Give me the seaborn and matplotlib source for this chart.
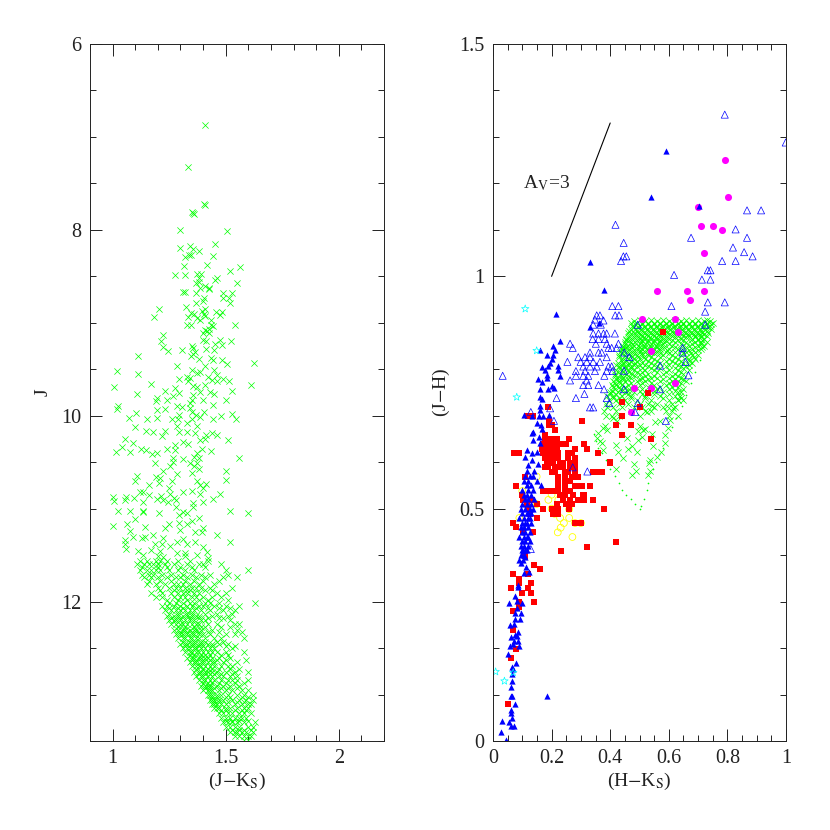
import numpy as np
import pandas as pd
import matplotlib
matplotlib.use('Agg')
import matplotlib.pyplot as plt
import seaborn as sns

# colour-magnitude diagram: sparse stars read one by one, (J-Ks, J)
cmd_sparse = [
(1.41,6.87),(1.335,7.32),(1.406,7.72),(1.41,7.73),(1.357,7.82),(1.35,7.81),(1.36,7.83),(1.298,8.0),(1.505,8.01),
(1.298,8.2),(1.342,8.175),(1.357,8.21),(1.384,8.226),(1.453,8.154),(1.446,8.283),(1.322,8.294),(1.337,8.272),(1.345,8.272),
(1.416,8.373),(1.316,8.387),(1.564,8.401),(1.517,8.444),(1.276,8.487),(1.322,8.487),(1.372,8.473),(1.39,8.473),(1.381,8.52),
(1.453,8.537),(1.46,8.52),(1.369,8.573),(1.384,8.566),(1.549,8.573),(1.387,8.627),(1.407,8.609),(1.428,8.627),(1.424,8.638),
(1.313,8.666),(1.322,8.666),(1.369,8.681),(1.49,8.681),(1.527,8.681),(1.404,8.735),(1.487,8.731),(1.515,8.735),(1.401,8.763),
(1.517,8.788),(1.37,8.788),(1.207,8.853),(1.323,8.835),(1.41,8.853),(1.394,8.871),(1.456,8.882),(1.483,8.882),(1.345,8.896),
(1.36,8.907),(1.404,8.907),(1.409,8.932),(1.475,8.917),(1.182,8.935),(1.332,8.935),(1.375,8.946),(1.387,8.975),(1.434,8.971),
(1.543,9.021),(1.331,9.029),(1.345,9.029),(1.434,9.021),(1.446,9.039),(1.424,9.068),(1.409,9.075),(1.416,9.093),(1.401,9.111),
(1.428,9.111),(1.224,9.132),(1.214,9.193),(1.401,9.183),(1.412,9.197),(1.475,9.19),(1.524,9.197),(1.453,9.226),(1.483,9.236),
(1.35,9.247),(1.224,9.261),(1.357,9.272),(1.412,9.279),(1.45,9.29),(1.306,9.294),(1.244,9.308),(1.364,9.315),(1.357,9.34),
(1.345,9.36),(1.112,9.36),(1.382,9.39),(1.434,9.38),(1.446,9.405),(1.483,9.40),(1.505,9.445),(1.627,9.435),(1.283,9.47),
(1.407,9.47),(1.449,9.505),(1.018,9.52),(1.35,9.51),(1.387,9.525),(1.372,9.54),(1.112,9.55),(1.33,9.58),(1.46,9.565),(1.42,9.585),
(1.342,9.595),(1.292,9.61),(1.44,9.62),(1.335,9.63),(1.49,9.61),(1.515,9.63),(1.46,9.63),(1.17,9.655),(1.407,9.665),(1.357,9.685),
(1.614,9.67),(1.008,9.695),(1.278,9.70),(1.372,9.69),(1.233,9.73),(1.527,9.735),(1.43,9.745),(1.387,9.745),(1.292,9.755),
(1.449,9.77),(1.106,9.77),(1.357,9.78),(1.269,9.785),(1.198,9.81),(1.242,9.83),(1.35,9.83),(1.50,9.83),(1.40,9.835),(1.192,9.845),
(1.342,9.865),(1.443,9.885),(1.283,9.89),(1.025,9.89),(1.307,9.905),(1.018,9.93),(1.195,9.94),(1.232,9.925),(1.34,9.915),
(1.35,9.955),(1.404,9.965),(1.104,9.975),(1.294,9.99),(1.369,9.99),(1.478,10.0),(1.53,9.98),(1.073,10.02),(1.198,10.02),
(1.261,10.03),(1.35,10.03),(1.387,10.01),(1.29,10.03),(1.446,10.03),(1.154,10.03),(1.545,10.03),
(1.10,10.12),(1.148,10.16),(1.18,10.17),(1.232,10.16),(1.217,10.215),(1.283,10.115),(1.295,10.17),(1.328,10.08),(1.372,10.115),
(1.365,10.185),(1.413,10.205),(1.46,10.205),(1.438,10.185),(1.33,10.17),(1.056,10.245),(1.508,10.265),(1.387,10.26),(1.41,10.25),
(1.092,10.295),(1.276,10.31),(1.313,10.285),(1.335,10.30),(1.043,10.34),(1.125,10.355),(1.146,10.365),(1.017,10.385),(1.078,10.395),
(1.242,10.36),(1.276,10.365),(1.394,10.36),(1.435,10.375),(1.174,10.415),(1.195,10.40),(1.372,10.40),(1.36,10.44),(1.38,10.455),
(1.56,10.46),(1.269,10.455),(1.313,10.47),(1.342,10.51),(1.187,10.51),(1.269,10.50),(1.375,10.51),(1.254,10.545),(1.36,10.54),
(1.38,10.575),(1.224,10.6),(1.35,10.615),(1.502,10.59),(1.285,10.63),(1.11,10.65),(1.19,10.66),(1.21,10.67),(1.10,10.70),
(1.263,10.70),(1.50,10.69),(1.375,10.70),(1.207,10.725),(1.413,10.735),(1.16,10.75),(1.387,10.75),(1.25,10.78),(1.40,10.78),
(1.12,10.82),(1.136,10.825),(1.313,10.82),(1.35,10.815),(1.387,10.84),(1.477,10.84),(1.163,10.85),(1.254,10.84),(1.214,10.86),
(1.003,10.875),(1.058,10.875),(1.096,10.88),(1.198,10.90),(1.273,10.885),(1.446,10.90),(1.006,10.915),(1.053,10.905),(1.136,10.93),
(1.224,10.905),(1.244,10.93),(1.28,10.905),(1.357,10.94),(1.399,10.93),(1.357,10.98),(1.28,10.985),(1.025,11.03),(1.077,11.02),
(1.133,11.02),(1.135,11.035),(1.205,11.05),(1.313,11.035),(1.33,11.045),(1.519,11.025),(1.60,11.05),(1.295,11.065),(1.10,11.11),
(1.38,11.105),(1.35,11.135),(1.25,11.16),(1.062,11.165),(1.294,11.155),(1.328,11.17),(1.003,11.185),(1.143,11.2),(1.232,11.21),
(1.399,11.21),(1.077,11.235),(1.298,11.225),(1.365,11.255),(1.395,11.25),(1.18,11.28),(1.462,11.28),(1.092,11.3),(1.143,11.3),
(1.128,11.315),(1.224,11.315),(1.055,11.34),(1.313,11.325),(1.283,11.36),(1.521,11.36),(1.365,11.36),(1.055,11.38),(1.187,11.38),
(1.22,11.385),(1.328,11.385),(1.254,11.40),(1.399,11.41),(1.06,11.435),(1.114,11.46),(1.168,11.44),(1.21,11.46),(1.283,11.475),
(1.32,11.475),(1.375,11.50),(1.416,11.47),(1.133,11.495),(1.202,11.505),(1.224,11.52),(1.32,11.51),(1.42,11.53),
]

# crowded lower part of the same diagram, (J, [J-Ks ...])
cmd_dense = [
(11.56,[1.12,1.15,1.19,1.21,1.24,1.29,1.34,1.42]),
(11.6,[1.11,1.14,1.16,1.18,1.2,1.23,1.27,1.33,1.38,1.4,1.48]),
(11.63,[1.13,1.2,1.24,1.3,1.35,1.41]),
(11.66,[1.12,1.15,1.17,1.19,1.21,1.25,1.29,1.32,1.36,1.5,1.6]),
(11.71,[1.13,1.16,1.18,1.22,1.26,1.31,1.35,1.39,1.43,1.51]),
(11.74,[1.14,1.17,1.2,1.24,1.28,1.3,1.33,1.37,1.41,1.49,1.55]),
(11.78,[1.16,1.21,1.26,1.32,1.36,1.4,1.47]),
(11.81,[1.15,1.19,1.23,1.27,1.29,1.31,1.34,1.38,1.45]),
(11.85,[1.2,1.25,1.28,1.3,1.32,1.35,1.37,1.39,1.43,1.53]),
(11.88,[1.21,1.27,1.33,1.34,1.41,1.44]),
(11.91,[1.17,1.22,1.26,1.29,1.31,1.33,1.36,1.38,1.46,1.5]),
(11.95,[1.19,1.22,1.27,1.3,1.32,1.35,1.37,1.4,1.44,1.48]),
(11.98,[1.24,1.29,1.33,1.38,1.42,1.51]),
(12.01,[1.25,1.28,1.31,1.34,1.36,1.41,1.43,1.47,1.63]),
(12.05,[1.22,1.24,1.27,1.3,1.33,1.35,1.38,1.4,1.45,1.5,1.56]),
(12.07,[1.25,1.29,1.31,1.37,1.42,1.47,1.52]),
(12.09,[1.23,1.26,1.28,1.3,1.32,1.34,1.36,1.39,1.43,1.49,1.54]),
(12.13,[1.25,1.29,1.33,1.35,1.41,1.46,1.53]),
(12.16,[1.24,1.27,1.29,1.31,1.33,1.35,1.37,1.38,1.44,1.51]),
(12.18,[1.26,1.3,1.34,1.38,1.42,1.47,1.49]),
(12.2,[1.25,1.27,1.28,1.3,1.32,1.34,1.36,1.39,1.41,1.52]),
(12.24,[1.26,1.28,1.3,1.31,1.33,1.35,1.37,1.38,1.42,1.46,1.54,1.56]),
(12.27,[1.29,1.32,1.36,1.39,1.41,1.48,1.52]),
(12.31,[1.27,1.29,1.31,1.32,1.34,1.36,1.37,1.39,1.44,1.55]),
(12.33,[1.3,1.33,1.35,1.38,1.42,1.47,1.57]),
(12.35,[1.28,1.3,1.31,1.33,1.35,1.36,1.38,1.4,1.43,1.5,1.54]),
(12.39,[1.29,1.31,1.32,1.34,1.35,1.37,1.38,1.41,1.45,1.48,1.58]),
(12.43,[1.31,1.34,1.36,1.39,1.41,1.46,1.49]),
(12.46,[1.3,1.32,1.33,1.35,1.36,1.38,1.39,1.42,1.44,1.47,1.51]),
(12.48,[1.32,1.35,1.38,1.4,1.44,1.5,1.54]),
(12.5,[1.31,1.33,1.34,1.36,1.37,1.39,1.41,1.43,1.45,1.53]),
(12.54,[1.32,1.34,1.35,1.37,1.38,1.4,1.42,1.44,1.46,1.5,1.58]),
(12.57,[1.34,1.36,1.39,1.41,1.43,1.48,1.51]),
(12.61,[1.33,1.35,1.36,1.38,1.39,1.41,1.42,1.44,1.47,1.52]),
(12.63,[1.35,1.37,1.4,1.43,1.46,1.5,1.59]),
(12.65,[1.34,1.36,1.37,1.39,1.4,1.42,1.44,1.45,1.49,1.55]),
(12.69,[1.35,1.37,1.38,1.39,1.41,1.43,1.45,1.48,1.51,1.53]),
(12.73,[1.37,1.4,1.42,1.44,1.47,1.52,1.56]),
(12.76,[1.36,1.38,1.39,1.41,1.42,1.44,1.46,1.5,1.54,1.6]),
(12.78,[1.38,1.41,1.43,1.45,1.48,1.53]),
(12.8,[1.37,1.39,1.4,1.42,1.44,1.47,1.49,1.52,1.55]),
(12.84,[1.38,1.4,1.41,1.43,1.45,1.48,1.51,1.53,1.55,1.6]),
(12.88,[1.4,1.42,1.44,1.47,1.5,1.54,1.58]),
(12.91,[1.39,1.41,1.42,1.43,1.46,1.49,1.52,1.56]),
(12.93,[1.41,1.43,1.45,1.48,1.51,1.55]),
(12.95,[1.4,1.42,1.43,1.44,1.47,1.5,1.53,1.57,1.6]),
(13.0,[1.42,1.43,1.44,1.46,1.48,1.51,1.55,1.58,1.62]),
(13.03,[1.44,1.46,1.5,1.52,1.57,1.6]),
(13.06,[1.43,1.44,1.45,1.47,1.49,1.53,1.56,1.59,1.62]),
(13.08,[1.45,1.47,1.51,1.55,1.58]),
(13.1,[1.44,1.45,1.46,1.48,1.5,1.54,1.57,1.6,1.61]),
(13.14,[1.45,1.46,1.47,1.5,1.52,1.55,1.58,1.6]),
(13.17,[1.48,1.5,1.54,1.57,1.59]),
(13.2,[1.47,1.49,1.51,1.53,1.56,1.58,1.61]),
(13.25,[1.48,1.5,1.52,1.54,1.56,1.57,1.59]),
(13.28,[1.5,1.53,1.56,1.6]),
(13.3,[1.49,1.51,1.53,1.55,1.58,1.63]),
(13.35,[1.5,1.52,1.54,1.56,1.6,1.62]),
(13.38,[1.53,1.56,1.58,1.61]),
(13.4,[1.52,1.54,1.55,1.57,1.59,1.62]),
(13.45,[1.54,1.56,1.58,1.6,1.61]),
(13.49,[1.58,1.6]),
]

# colour-colour diagram: green crosses, crowded part as (J-H, [H-Ks ...])
cc_green_dense = [
(.905,[.50,.54,.58,.62,.66,.70,.73]),
(.903,[.48,.52,.56,.6,.64,.68,.72,.74]),
(.90,[.47,.49,.51,.53,.55,.57,.59,.61,.63,.65,.67,.69,.71,.73,.75]),
(.897,[.485,.51,.53,.55,.57,.59,.61,.63,.65,.67,.69,.71,.73,.745]),
(.893,[.475,.5,.52,.54,.56,.58,.6,.62,.64,.66,.68,.7,.72,.74]),
(.89,[.48,.495,.515,.535,.555,.575,.595,.615,.635,.655,.675,.695,.715,.735]),
(.886,[.47,.485,.505,.525,.545,.565,.585,.605,.625,.645,.665,.685,.705,.725,.745]),
(.883,[.465,.49,.51,.53,.55,.57,.59,.61,.63,.65,.67,.69,.71,.73]),
(.879,[.46,.48,.495,.515,.535,.555,.575,.595,.615,.655,.675,.695,.715,.735]),
(.876,[.47,.485,.505,.525,.545,.565,.585,.605,.625,.645,.665,.685,.705,.72]),
(.872,[.465,.49,.51,.53,.55,.57,.59,.61,.63,.65,.67,.69,.71,.73]),
(.869,[.46,.48,.495,.515,.535,.555,.575,.595,.62,.66,.69,.71]),
(.865,[.455,.475,.5,.52,.54,.56,.58,.6,.64,.68,.7,.72]),
(.862,[.455,.465,.49,.51,.53,.55,.57,.59,.61,.63,.65,.675,.7,.715]),
(.858,[.45,.47,.485,.505,.525,.545,.565,.585,.62,.66,.69,.71,.73]),
(.855,[.45,.475,.5,.52,.54,.56,.58,.6,.64,.68,.71]),
(.851,[.445,.46,.48,.495,.515,.535,.555,.575,.61,.65,.67,.7,.72]),
(.848,[.445,.455,.475,.5,.52,.54,.56,.585,.62,.66,.69,.715]),
(.844,[.44,.465,.49,.51,.53,.55,.57,.6,.63,.68,.71]),
(.841,[.44,.46,.48,.5,.525,.545,.565,.595,.64,.67,.7]),
(.837,[.435,.455,.475,.5,.52,.54,.56,.59,.62,.66,.69]),
(.834,[.44,.465,.485,.51,.53,.55,.57,.6,.65,.675]),
(.83,[.43,.45,.47,.49,.51,.53,.58,.61,.64,.68,.7]),
(.826,[.43,.455,.475,.495,.515,.54,.57,.62,.66,.685]),
(.822,[.44,.46,.48,.5,.52,.55,.6,.63,.67,.69]),
(.818,[.44,.455,.47,.49,.53,.56,.59,.61,.64,.67]),
(.814,[.425,.445,.465,.485,.51,.54,.57,.62,.65,.68]),
(.81,[.42,.44,.46,.48,.5,.52,.55,.6,.63,.67]),
(.806,[.43,.45,.47,.49,.53,.56,.59,.64,.66]),
(.802,[.435,.455,.47,.51,.54,.57,.62,.65]),
(.798,[.42,.44,.46,.48,.52,.55,.6,.63,.67]),
(.794,[.425,.445,.465,.49,.51,.56,.59,.64]),
(.79,[.415,.435,.455,.475,.5,.53,.58,.62,.65]),
(.786,[.415,.44,.46,.485,.52,.55,.61,.63]),
(.782,[.425,.445,.47,.51,.54,.56,.6,.64]),
(.778,[.42,.44,.46,.5,.53,.58,.62,.65]),
(.774,[.41,.43,.45,.49,.52,.57,.61,.63,.66]),
(.77,[.415,.435,.47,.51,.54,.6,.64]),
(.766,[.405,.42,.44,.46,.5,.55,.59,.62]),
(.762,[.41,.43,.45,.48,.53,.57,.61,.63]),
(.758,[.415,.435,.465,.51,.56,.6,.65]),
(.754,[.405,.44,.46,.5,.55,.62]),
(.75,[.4,.425,.45,.48,.53,.58,.63,.64]),
(.746,[.4,.42,.46,.51,.55,.6]),
(.742,[.39,.41,.44,.47,.52,.57,.62]),
(.738,[.41,.43,.47,.52,.58,.64]),
(.734,[.395,.42,.45,.49,.54,.6,.63,.65]),
(.726,[.385,.43,.46,.5,.53,.56,.61]),
(.718,[.39,.41,.44,.48,.51,.55,.58,.62]),
(.71,[.38,.42,.47,.52,.54,.59,.61]),
(.70,[.385,.405,.43,.5,.6,.63]),
]
cc_green_sparse = [
(.377,.673),(.388,.67),(.36,.663),(.513,.67),(.502,.677),(.553,.686),(.57,.688),(.604,.69),(.598,.673),(.587,.659),(.587,.641),
(.365,.645),(.371,.641),(.377,.627),(.42,.637),(.428,.623),(.445,.609),(.462,.628),(.473,.634),(.49,.621),(.496,.648),(.507,.655),
(.542,.661),(.547,.634),(.559,.612),(.572,.623),(.534,.598),(.482,.597),(.488,.582),(.476,.573),(.536,.58),(.53,.573),(.42,.586),
(.536,.605),(.519,.671),(.456,.652),(.496,.667),(.354,.652),(.382,.677),(.411,.695),(.422,.688),(.525,.709),(.542,.72),(.593,.72),
(.616,.717),(.633,.734),(.638,.742),
]
# tiny dots along the edge of the green wedge
cc_green_dots = [
(.372,.62),(.385,.605),(.40,.585),(.415,.57),(.43,.555),(.44,.54),(.455,.53),(.47,.52),(.485,.51),(.5,.5),(.505,.505),
(.515,.52),(.525,.54),(.53,.555),(.545,.585),(.555,.6),(.58,.63),(.345,.66),(.35,.645),(.36,.63),(.61,.675),(.625,.695),
(.645,.72),(.66,.745),(.675,.77),(.69,.795),(.705,.82),
]

blue_filled = [
(.043,.002),(.026,.02),(.032,.043),(.055,.04),(.061,.033),(.073,.033),(.064,.05),(.06,.06),(.06,.066),(.074,.08),(.06,.097),(.064,.097),
(.185,.097),(.061,.117),(.064,.129),(.066,.144),(.069,.154),(.065,.16),(.079,.168),(.05,.187),(.069,.209),(.058,.205),(.089,.204),
(.084,.215),(.073,.215),(.06,.223),(.075,.228),(.087,.234),(.083,.227),(.058,.249),(.073,.251),(.075,.263),(.093,.263),(.075,.275),
(.096,.275),(.056,.296),(.082,.286),(.1,.298),(.083,.301),(.074,.312),(.087,.332),(.084,.336),(.107,.361),(.122,.363),(.114,.375),
(.09,.39),(.101,.39),(.094,.384),(.11,.395),(.104,.409),
(.214,.918),(.229,.86),(.206,.849),(.212,.842),(.16,.841),(.185,.831),(.205,.831),(.2,.822),(.195,.814),(.166,.804),(.189,.806),
(.223,.806),(.178,.799),(.223,.799),(.183,.788),(.229,.786),(.152,.778),(.168,.772),(.183,.781),(.16,.757),(.189,.757),(.2,.765),
(.208,.76),(.16,.74),(.168,.736),(.16,.722),(.16,.713),(.192,.702),(.106,.702),(.132,.699),(.157,.699),(.172,.699),(.149,.684),
(.164,.681),(.132,.663),(.137,.666),(.166,.671),(.157,.655),(.137,.648),(.16,.641),(.117,.627),(.149,.621),(.132,.62),(.109,.612),
(.132,.605),(.152,.596),(.12,.594),(.33,.89),(.362,.90),(.59,1.27),(.54,1.17),(.703,1.152),(.33,1.03),(.379,.97),
]
blue_dense = [
(.58,[.115,.14]),(.57,[.11,.125,.135]),(.56,[.105,.12,.15]),(.55,[.115,.13,.165]),(.54,[.1,.12,.135]),(.53,[.105,.115,.13]),
(.52,[.11,.12,.14]),(.51,[.1,.115,.13]),(.50,[.095,.11,.125,.135]),(.49,[.1,.115,.12,.13]),(.48,[.09,.105,.12,.125]),
(.47,[.1,.11,.115,.13]),(.46,[.095,.105,.12]),(.45,[.1,.11,.125]),(.44,[.09,.105,.115,.12]),(.43,[.1,.11,.125]),
(.42,[.095,.105,.12]),(.41,[.1,.11,.115]),(.40,[.095,.105]),
]
blue_open = [
(.407,.936),(.428,.936),(.417,.916),(.43,.916),(.033,.786),(.354,.916),(.365,.916),(.348,.907),(.377,.905),(.368,.896),(.342,.896),
(.342,.877),(.36,.877),(.377,.877),(.388,.877),(.416,.877),(.34,.865),(.36,.865),(.382,.865),(.351,.855),(.388,.855),(.428,.855),
(.263,.855),(.272,.846),(.394,.846),(.405,.846),(.422,.846),(.331,.836),(.36,.836),(.371,.836),(.291,.826),(.314,.826),(.331,.826),
(.388,.826),(.254,.816),(.299,.816),(.32,.816),(.342,.816),(.365,.816),(.308,.806),(.331,.806),(.354,.806),(.394,.806),(.405,.806),
(.283,.796),(.314,.796),(.348,.796),(.388,.796),(.408,.796),(.283,.786),(.308,.786),(.325,.786),(.38,.786),(.263,.776),(.32,.776),
(.308,.766),(.325,.766),(.36,.766),(.379,.757),(.312,.747),(.283,.738),(.388,.738),(.217,.738),(.397,.727),(.331,.718),(.342,.718),
(.195,.716),(.129,.708),(.208,.689),(.272,.589),(.322,.58),(.129,.413),
(.494,.896),(.724,.896),(.448,.836),(.465,.826),(.447,.797),(.57,.808),(.647,.846),(.647,.836),(.657,.816),(.667,.787),(.447,.757),
(.57,.757),(.494,.727),(.485,.708),(.59,.689),(.609,.936),(.724,.924),(.733,.944),(.791,.944),
(.791,1.348),(.999,1.288),(.867,1.142),(.915,1.142),(.418,1.111),(.828,1.101),(.676,1.083),(.867,1.083),(.446,1.072),(.819,1.062),
(.445,1.043),(.455,1.043),(.857,1.052),(.886,1.043),(.437,1.033),(.782,1.033),(.828,1.033),(.733,1.013),(.742,1.013),(.618,1.003),
(.713,.993),(.742,.993),
]
magenta = [
(.791,1.25),(.801,1.17),(.701,1.15),(.711,1.109),(.751,1.109),(.782,1.099),(.721,1.05),(.561,.969),(.661,.969),(.721,.969),(.671,.949),
(.51,.909),(.621,.909),(.63,.88),(.54,.84),(.481,.76),(.54,.76),(.621,.77),(.471,.709),
]
red_sparse = [
(.58,.88),(.53,.749),(.44,.729),(.5,.719),(.44,.699),(.42,.679),(.471,.679),(.44,.659),(.54,.649),(.36,.62),(.4,.6),(.34,.579),(.36,.579),
(.371,.579),(.303,.689),(.31,.639),(.32,.629),(.331,.549),(.303,.549),(.31,.529),(.31,.519),(.34,.519),(.38,.499),
(.28,.469),(.3,.469),(.069,.469),(.079,.46),(.104,.449),(.138,.449),(.32,.418),(.421,.429),(.231,.409),(.109,.399),(.14,.379),(.16,.37),
(.069,.359),(.121,.359),(.09,.349),(.09,.339),(.13,.339),(.06,.329),(.121,.329),(.1,.319),(.13,.319),(.14,.299),(.09,.299),(.09,.289),
(.069,.279),(.069,.239),(.08,.199),(.06,.179),(.05,.079),(.15,.48),(.21,.489),(.221,.489),
]
red_dense = [
(.719,[.189]),(.699,[.12,.138]),(.689,[.19]),(.679,[.19,.2]),(.669,[.21]),(.659,[.177]),
(.649,[.177,.19,.205,.217,.26]),(.639,[.17,.183,.195,.207,.22,.231,.25,.31]),(.629,[.166,.177,.19,.2,.217,.28,.32]),
(.619,[.07,.09,.171,.183,.195,.207,.223,.257,.269,.36]),(.609,[.177,.189,.2,.212,.223,.257,.28]),
(.599,[.183,.205,.229,.24,.263,.28,.4]),(.589,[.177,.189,.212,.229,.24,.263,.28]),
(.579,[.2,.212,.246,.257,.28]),(.569,[.109,.223,.246,.269,.291]),(.559,[.223,.246,.263]),
(.549,[.08,.223,.246,.28,.297]),(.539,[.171,.183,.206,.223,.246,.263]),(.529,[.098,.229,.246,.274,.308]),
(.519,[.104,.132,.24,.263,.291,.31]),(.509,[.115,.149,.217,.249,.269]),(.499,[.12,.171,.2,.223,.26,.38]),(.488,[.126,.206,.217]),
]
yellow = [
(.09,.48),(.149,.51),(.2,.5),(.229,.48),(.26,.48),(.242,.469),(.28,.469),(.3,.469),(.231,.459),(.221,.449),(.271,.439),(.26,.499),
(.189,.519),(.223,.519),(.21,.489),(.149,.569),(.1,.538),(.2,.53),
]
cyan = [(.009,.149),(.039,.129),(.069,.147),(.11,.93),(.149,.84),(.081,.74)]

reddening_x = [0.2, 0.4]
reddening_y = [1.0, 1.33]

left_xticks = [1, 1.5, 2]
left_xlabels = ['1', '1.5', '2']
left_yticks = [6, 8, 10, 12]
right_xticks = [0, 0.2, 0.4, 0.6, 0.8, 1]
right_xlabels = ['0', '0.2', '0.4', '0.6', '0.8', '1']
right_yticks = [0, 0.5, 1, 1.5]
right_ylabels = ['0', '0.5', '1', '1.5']


def to_frame(pairs=(), rows=()):
    pts = list(pairs)
    for r, xs in rows:
        pts += [(x, r) for x in xs]
    return pd.DataFrame(pts, columns=['x', 'y'])


sns.set_theme(style='ticks')
plt.rcParams['font.family'] = ['Liberation Serif', 'DejaVu Serif']
plt.rcParams['mathtext.fontset'] = 'stix'
plt.rcParams['axes.linewidth'] = 0.7
plt.rcParams['axes.edgecolor'] = '#222222'

fig = plt.figure(figsize=(8.3, 8.3), dpi=100)
ax1 = fig.add_axes([90 / 830, 1 - 741 / 830, 294 / 830, 697 / 830])
ax2 = fig.add_axes([493 / 830, 1 - 741 / 830, 293 / 830, 697 / 830])

green = '#00ff00'
sns.scatterplot(data=to_frame(cmd_sparse, cmd_dense), x='x', y='y', marker='x', color=green,
                s=20, linewidth=0.5, ax=ax1)

sns.scatterplot(data=to_frame(cc_green_sparse, cc_green_dense), x='x', y='y', marker='x', color=green,
                s=20, linewidth=0.5, ax=ax2)
sns.scatterplot(data=to_frame(cc_green_dots), x='x', y='y', marker='.', color=green,
                s=6, linewidth=0, ax=ax2)
sns.scatterplot(data=to_frame(magenta), x='x', y='y', marker='o', color='#ff00ff',
                s=26, linewidth=0, ax=ax2)
sns.scatterplot(data=to_frame(yellow), x='x', y='y', marker='o', facecolor='none', edgecolor='#ffff00',
                s=24, linewidth=0.6, ax=ax2)
sns.scatterplot(data=to_frame(red_sparse, red_dense), x='x', y='y', marker='s', color='#ff0000',
                s=13, linewidth=0, ax=ax2)
sns.scatterplot(data=to_frame(blue_open), x='x', y='y', marker='^', facecolor='none', edgecolor='#0000ff',
                s=26, linewidth=0.5, ax=ax2)
sns.scatterplot(data=to_frame(blue_filled, blue_dense), x='x', y='y', marker='^', color='#0000ff',
                s=20, linewidth=0, ax=ax2)
sns.scatterplot(data=to_frame(cyan), x='x', y='y', marker='*', facecolor='none', edgecolor='#00ffff',
                s=32, linewidth=0.5, ax=ax2)
sns.lineplot(x=reddening_x, y=reddening_y, color='black', linewidth=0.8, ax=ax2)
ax2.text(0.103, 1.2, r'A$_{\mathrm{V}}$=3', fontsize=14, ha='left', va='center', color='#222222')

ax1.set_xlim(0.9, 2.2)
ax1.set_ylim(13.5, 6)
ax1.set_xticks(left_xticks, left_xlabels)
ax1.set_xticks(np.arange(0.9, 2.21, 0.1), minor=True)
ax1.set_yticks(left_yticks)
ax1.set_yticks(np.arange(6, 13.6, 0.5), minor=True)
ax1.set_xlabel(r'(J$-$K$_{\mathrm{S}}$)', fontsize=14)
ax1.set_ylabel('J', fontsize=14)

ax2.set_xlim(0, 1)
ax2.set_ylim(0, 1.5)
ax2.set_xticks(right_xticks, right_xlabels)
ax2.set_xticks(np.arange(0, 1.01, 0.05), minor=True)
ax2.set_yticks(right_yticks, right_ylabels)
ax2.set_yticks(np.arange(0, 1.51, 0.1), minor=True)
ax2.set_xlabel(r'(H$-$K$_{\mathrm{S}}$)', fontsize=14)
ax2.set_ylabel('(J$-$H)', fontsize=14)

for ax in (ax1, ax2):
    ax.tick_params(which='major', direction='in', top=True, right=True, length=8.6, width=0.7,
                   labelsize=14.5, pad=6, color='#222222', labelcolor='#222222')
    ax.tick_params(which='minor', direction='in', top=True, right=True, length=4.3, width=0.7, color='#222222')
    ax.xaxis.set_label_coords(0.5, -0.043)
    ax.xaxis.label.set_color('#222222')
    ax.yaxis.label.set_color('#222222')
ax1.yaxis.set_label_coords(-0.13, 0.5)
ax2.yaxis.set_label_coords(-0.14, 0.5)

plt.savefig('out.png', dpi=100)
